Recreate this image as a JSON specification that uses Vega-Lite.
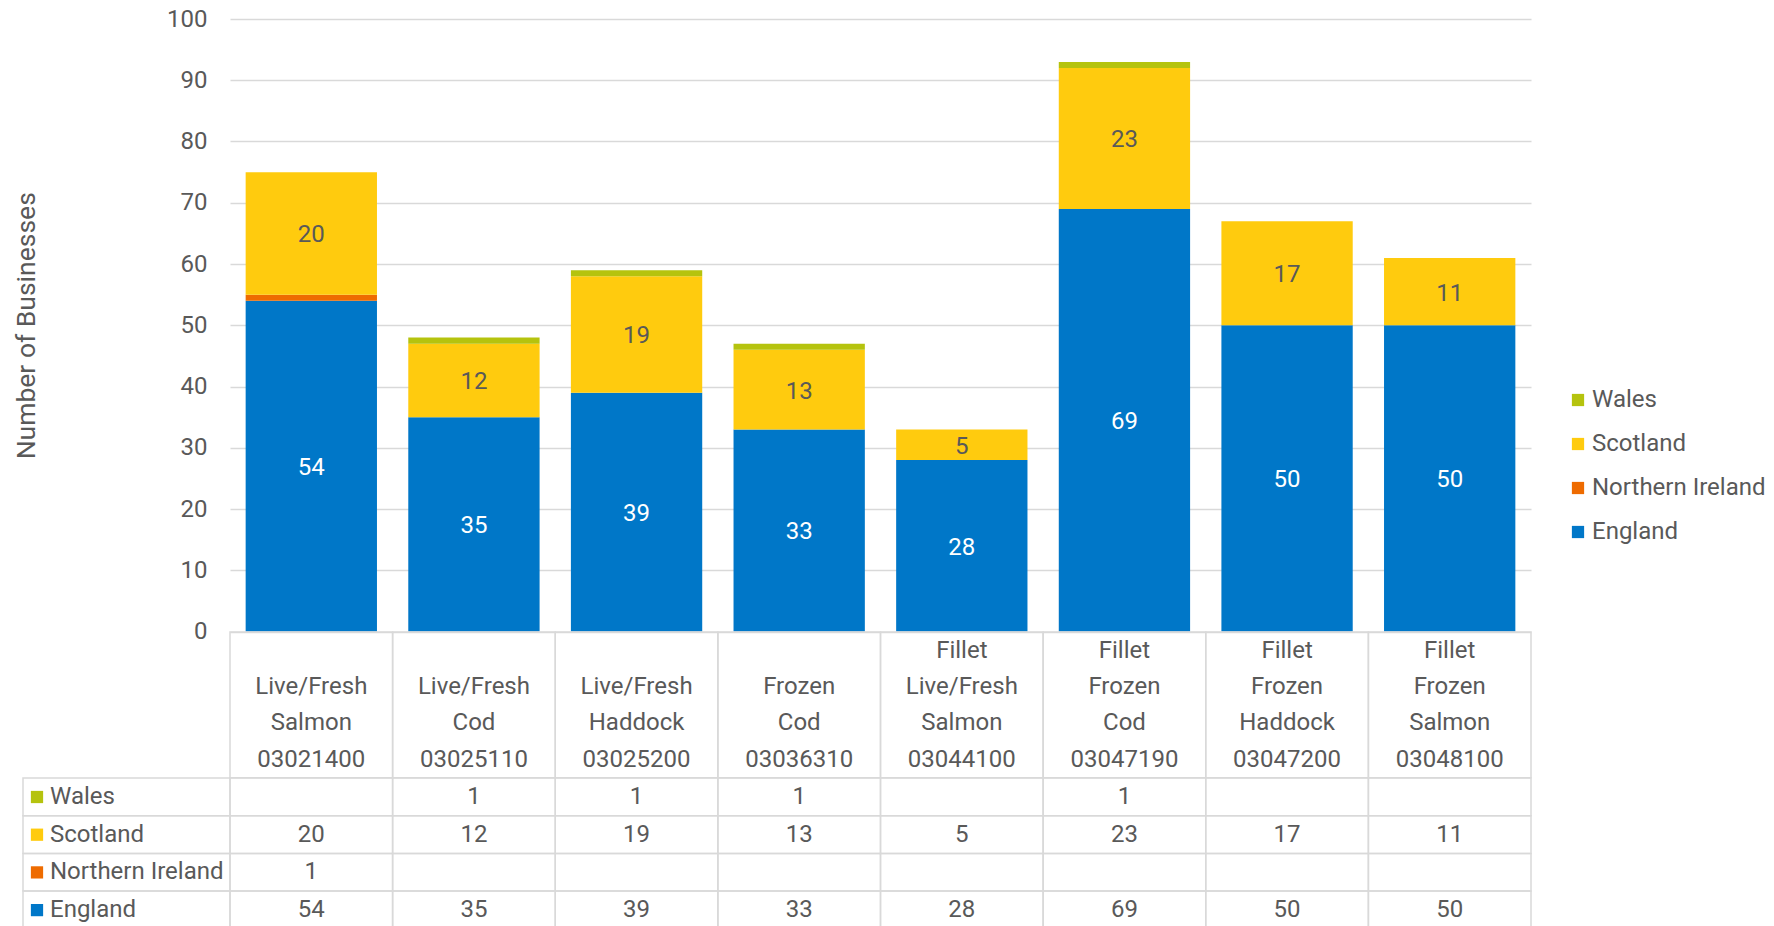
{
  "$schema": "https://vega.github.io/schema/vega-lite/v6.json",
  "padding": {"left": 13, "top": 7, "right": 0, "bottom": 0},
  "background": "white",
  "datasets": {
    "cells": [
      {"code": "03021400", "country": "England", "count": 54},
      {"code": "03021400", "country": "Northern Ireland", "count": 1},
      {"code": "03021400", "country": "Scotland", "count": 20},
      {"code": "03021400", "country": "Wales", "count": null},
      {"code": "03025110", "country": "England", "count": 35},
      {"code": "03025110", "country": "Northern Ireland", "count": null},
      {"code": "03025110", "country": "Scotland", "count": 12},
      {"code": "03025110", "country": "Wales", "count": 1},
      {"code": "03025200", "country": "England", "count": 39},
      {"code": "03025200", "country": "Northern Ireland", "count": null},
      {"code": "03025200", "country": "Scotland", "count": 19},
      {"code": "03025200", "country": "Wales", "count": 1},
      {"code": "03036310", "country": "England", "count": 33},
      {"code": "03036310", "country": "Northern Ireland", "count": null},
      {"code": "03036310", "country": "Scotland", "count": 13},
      {"code": "03036310", "country": "Wales", "count": 1},
      {"code": "03044100", "country": "England", "count": 28},
      {"code": "03044100", "country": "Northern Ireland", "count": null},
      {"code": "03044100", "country": "Scotland", "count": 5},
      {"code": "03044100", "country": "Wales", "count": null},
      {"code": "03047190", "country": "England", "count": 69},
      {"code": "03047190", "country": "Northern Ireland", "count": null},
      {"code": "03047190", "country": "Scotland", "count": 23},
      {"code": "03047190", "country": "Wales", "count": 1},
      {"code": "03047200", "country": "England", "count": 50},
      {"code": "03047200", "country": "Northern Ireland", "count": null},
      {"code": "03047200", "country": "Scotland", "count": 17},
      {"code": "03047200", "country": "Wales", "count": null},
      {"code": "03048100", "country": "England", "count": 50},
      {"code": "03048100", "country": "Northern Ireland", "count": null},
      {"code": "03048100", "country": "Scotland", "count": 11},
      {"code": "03048100", "country": "Wales", "count": null}
    ],
    "cats": [
      {"code": "03021400", "name": "Live/Fresh Salmon 03021400"},
      {"code": "03025110", "name": "Live/Fresh Cod 03025110"},
      {"code": "03025200", "name": "Live/Fresh Haddock 03025200"},
      {"code": "03036310", "name": "Frozen Cod 03036310"},
      {"code": "03044100", "name": "Fillet Live/Fresh Salmon 03044100"},
      {"code": "03047190", "name": "Fillet Frozen Cod 03047190"},
      {"code": "03047200", "name": "Fillet Frozen Haddock 03047200"},
      {"code": "03048100", "name": "Fillet Frozen Salmon 03048100"}
    ],
    "countries": [
      {"country": "Wales"},
      {"country": "Scotland"},
      {"country": "Northern Ireland"},
      {"country": "England"}
    ]
  },
  "columns": 2,
  "spacing": 0,
  "bounds": "flush",
  "resolve": {
    "scale": {"x": "independent", "y": "independent", "color": "independent", "fill": "independent"},
    "legend": {"color": "independent", "fill": "independent"}
  },
  "concat": [
    {"width": 207, "height": 612.5, "data": {"values": []}, "mark": "rect", "encoding": {}},
    {
      "width": 1301,
      "height": 612.5,
      "data": {"name": "cells"},
      "transform": [
        {"filter": "datum.count != null"},
        {"lookup": "code", "from": {"data": {"name": "cats"}, "key": "code", "fields": ["name"]}}
      ],
      "encoding": {
        "x": {
          "field": "name", "type": "nominal", "sort": null,
          "scale": {"paddingInner": 0, "paddingOuter": 0},
          "axis": {
            "title": null, "orient": "bottom", "domain": false, "ticks": false, "tickSize": 0, "grid": false,
            "labelAngle": 0, "labelPadding": 7, "labelBaseline": "top", "labelLineHeight": 36.2,
            "labelFontSize": 24, "labelColor": "#595959", "labelLimit": 0, "labelOverlap": false,
            "labelFlush": false, "labelBound": false,
            "labelExpr": "split((length(split(datum.value, ' ')) < 4 ? ' ' : '') + datum.value, ' ')"
          }
        }
      },
      "layer": [
        {
          "mark": {"type": "bar", "width": {"band": 0.8075}},
          "encoding": {
            "y": {
              "field": "count", "type": "quantitative", "stack": "zero",
              "scale": {"domain": [0, 100]},
              "axis": {
                "title": "Number of Businesses",
                "values": [0, 10, 20, 30, 40, 50, 60, 70, 80, 90, 100],
                "domain": false, "ticks": false, "tickSize": 0,
                "labelPadding": 23, "labelFontSize": 24, "labelColor": "#595959",
                "gridColor": "#D9D9D9", "gridWidth": 1.5,
                "titleFontSize": 26.5, "titleFontWeight": "normal", "titleColor": "#595959",
                "titlePadding": 126
              }
            },
            "color": {
              "field": "country", "type": "nominal",
              "scale": {
                "domain": ["Wales", "Scotland", "Northern Ireland", "England"],
                "range": ["#B5C30E", "#FFCB0E", "#EE6B00", "#0077C8"]
              },
              "legend": {
                "title": null, "orient": "none", "legendX": 1336, "legendY": 369,
                "symbolType": "square", "symbolSize": 150, "symbolStrokeWidth": 0,
                "labelFontSize": 24, "labelColor": "#595959", "rowPadding": 20,
                "padding": 0, "labelOffset": 2, "labelLimit": 0
              }
            },
            "order": {"field": "country", "sort": "ascending"}
          }
        },
        {
          "mark": {"type": "text", "fontSize": 24, "dy": 2},
          "encoding": {
            "y": {"field": "count", "type": "quantitative", "stack": "zero", "bandPosition": 0.5},
            "detail": {"field": "country"},
            "order": {"field": "country", "sort": "ascending"},
            "text": {"field": "count", "type": "quantitative"},
            "color": {"condition": {"test": "datum.country === 'England'", "value": "#ffffff"}, "value": "#595959"},
            "opacity": {"condition": {"test": "datum.country === 'Wales' || datum.country === 'Northern Ireland'", "value": 0}, "value": 1}
          }
        }
      ]
    },
    {"width": 207, "height": 145.8, "data": {"values": []}, "mark": "rect", "encoding": {}},
    {
      "width": 1301,
      "height": 145.8,
      "data": {"name": "cats"},
      "mark": {"type": "rect", "fill": "transparent", "stroke": "#D9D9D9", "strokeWidth": 1.5},
      "encoding": {
        "x": {"field": "code", "type": "nominal", "axis": null, "scale": {"paddingInner": 0, "paddingOuter": 0}}
      }
    },
    {
      "width": 207,
      "height": 150.8,
      "data": {"name": "countries"},
      "encoding": {
        "y": {
          "field": "country", "type": "nominal", "axis": null,
          "scale": {"domain": ["Wales", "Scotland", "Northern Ireland", "England"], "paddingInner": 0, "paddingOuter": 0}
        }
      },
      "layer": [
        {"mark": {"type": "rect", "fill": "transparent", "stroke": "#D9D9D9", "strokeWidth": 1.5}},
        {
          "mark": {"type": "square", "size": 0, "opacity": 1},
          "encoding": {
            "fill": {
              "field": "country", "type": "nominal",
              "scale": {
                "domain": ["Wales", "Scotland", "Northern Ireland", "England"],
                "range": ["#B5C30E", "#FFCB0E", "#EE6B00", "#0077C8"]
              },
              "legend": {
                "title": null, "orient": "none", "legendX": 2, "legendY": 7,
                "symbolType": "square", "symbolSize": 150, "symbolStrokeWidth": 0, "symbolOpacity": 1,
                "labelFontSize": 24, "labelColor": "#595959", "rowPadding": 13.7,
                "padding": 0, "labelOffset": 1, "labelLimit": 0
              }
            }
          }
        }
      ]
    },
    {
      "width": 1301,
      "height": 150.8,
      "data": {"name": "cells"},
      "encoding": {
        "x": {"field": "code", "type": "nominal", "axis": null, "scale": {"paddingInner": 0, "paddingOuter": 0}},
        "y": {
          "field": "country", "type": "nominal", "axis": null,
          "scale": {"domain": ["Wales", "Scotland", "Northern Ireland", "England"], "paddingInner": 0, "paddingOuter": 0}
        }
      },
      "layer": [
        {"mark": {"type": "rect", "fill": "transparent", "stroke": "#D9D9D9", "strokeWidth": 1.5}},
        {
          "transform": [{"filter": "datum.count != null"}],
          "mark": {"type": "text", "fontSize": 24, "color": "#595959"},
          "encoding": {"text": {"field": "count", "type": "quantitative"}}
        }
      ]
    }
  ],
  "config": {
    "view": {"stroke": null},
    "font": "Roboto",
    "text": {"font": "Roboto", "fontSize": 24, "color": "#595959"}
  }
}
